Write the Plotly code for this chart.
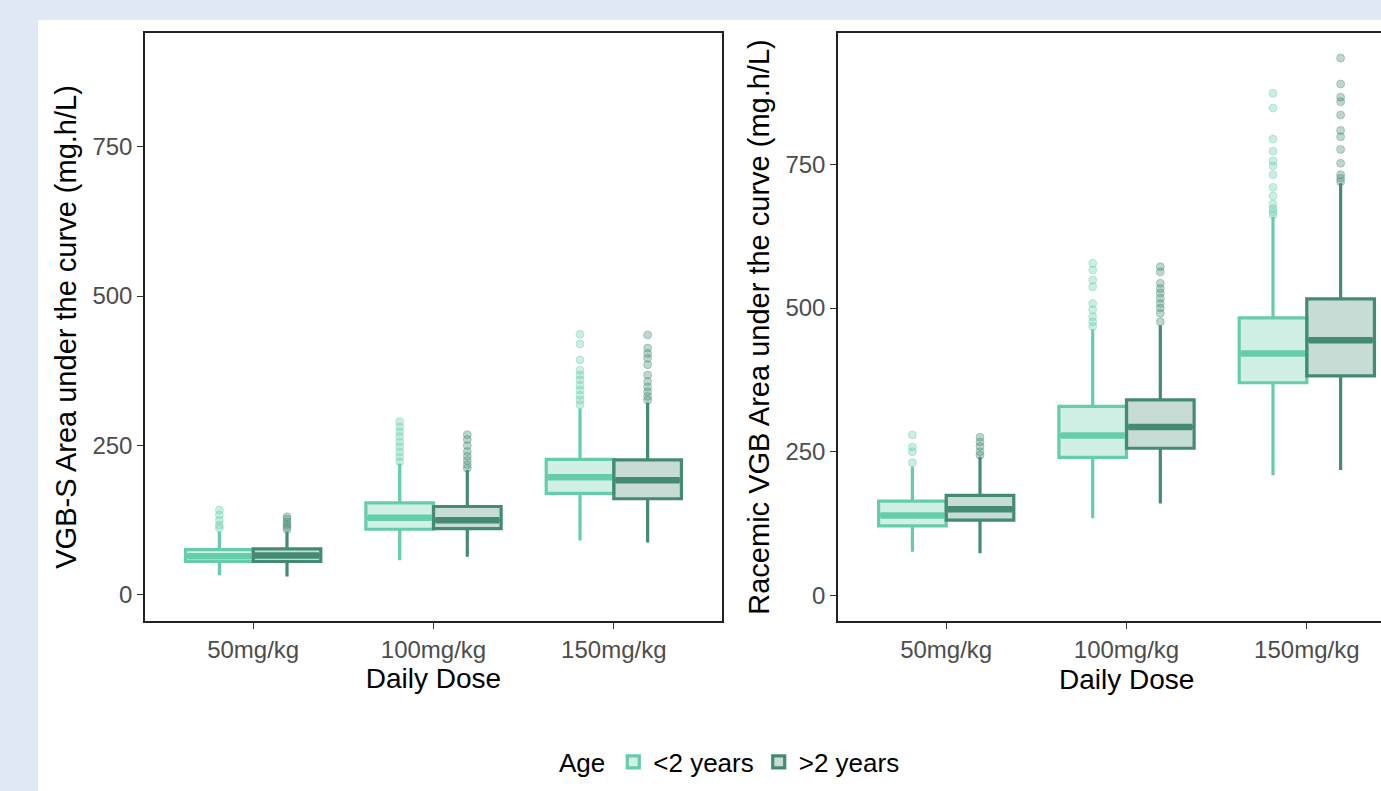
import plotly.graph_objects as go

# ---------------- data ----------------
doses = ["50mg/kg", "100mg/kg", "150mg/kg"]
dose_pos = [1, 2, 3]
age_groups = ["<2 years", ">2 years"]

# VGB-S AUC (left panel)
vgbs_lt2_lower = [33, 58, 91]
vgbs_lt2_q1 = [56, 110, 170]
vgbs_lt2_median = [65, 129, 197]
vgbs_lt2_q3 = [76, 154, 227]
vgbs_lt2_upper = [106, 220, 312]
vgbs_lt2_outliers = [
    [142, 134, 125, 117, 112],
    [290, 281, 273, 265, 256, 248, 239, 231, 223],
    [436, 420, 393, 376, 368, 360, 351, 343, 334, 326, 318],
]

vgbs_gt2_lower = [31, 64, 88]
vgbs_gt2_q1 = [56, 111, 161]
vgbs_gt2_median = [66, 125, 192]
vgbs_gt2_q3 = [77, 148, 226]
vgbs_gt2_upper = [106, 209, 322]
vgbs_gt2_outliers = [
    [131, 127, 122, 118, 114, 110],
    [268, 260, 250, 240, 232, 225, 218, 212],
    [435, 413, 404, 396, 385, 368, 357, 348, 340, 332, 326],
]

# Racemic VGB AUC (right panel)
rac_lt2_lower = [76, 134, 209]
rac_lt2_q1 = [121, 240, 370]
rac_lt2_median = [139, 278, 421]
rac_lt2_q3 = [164, 329, 483]
rac_lt2_upper = [224, 463, 659]
rac_lt2_outliers = [
    [279, 258, 250, 231],
    [578, 566, 549, 537, 508, 497, 485, 476, 468],
    [874, 848, 794, 773, 756, 747, 732, 710, 695, 681, 673, 667, 662],
]

rac_gt2_lower = [73, 160, 218]
rac_gt2_q1 = [131, 256, 382]
rac_gt2_median = [150, 293, 444]
rac_gt2_q3 = [174, 340, 516]
rac_gt2_upper = [241, 470, 717]
rac_gt2_outliers = [
    [275, 267, 259, 250, 244],
    [572, 563, 543, 534, 526, 517, 508, 500, 491, 476],
    [935, 890, 867, 859, 836, 809, 798, 776, 752, 732, 726, 720],
]

y_ticks = [0, 250, 500, 750]

# ---------------- style ----------------
LIGHT = "#66CDAA"
DARK = "#458B74"
LIGHT_FILL = "rgba(102,205,170,0.3)"
DARK_FILL = "rgba(69,139,116,0.3)"
LIGHT_PT = "rgba(102,205,170,0.35)"
DARK_PT = "rgba(69,139,116,0.35)"
BOX_W = 0.375
FONT = "Liberation Sans, Arial, sans-serif"

fig = go.Figure()

panels = [
    ("x", "y", [
        (age_groups[0], -1, LIGHT, LIGHT_FILL, LIGHT_PT, vgbs_lt2_lower, vgbs_lt2_q1, vgbs_lt2_median, vgbs_lt2_q3, vgbs_lt2_upper, vgbs_lt2_outliers),
        (age_groups[1], 1, DARK, DARK_FILL, DARK_PT, vgbs_gt2_lower, vgbs_gt2_q1, vgbs_gt2_median, vgbs_gt2_q3, vgbs_gt2_upper, vgbs_gt2_outliers),
    ], True),
    ("x2", "y2", [
        (age_groups[0], -1, LIGHT, LIGHT_FILL, LIGHT_PT, rac_lt2_lower, rac_lt2_q1, rac_lt2_median, rac_lt2_q3, rac_lt2_upper, rac_lt2_outliers),
        (age_groups[1], 1, DARK, DARK_FILL, DARK_PT, rac_gt2_lower, rac_gt2_q1, rac_gt2_median, rac_gt2_q3, rac_gt2_upper, rac_gt2_outliers),
    ], False),
]

for xa, ya, series, show in panels:
    for name, side, col, fill, ptc, lo, q1, med, q3, up, outs in series:
        xs = [p + side * BOX_W / 2 for p in dose_pos]
        # outliers
        ox, oy = [], []
        for x, vals in zip(xs, outs):
            ox += [x] * len(vals)
            oy += vals
        fig.add_trace(go.Scatter(
            x=ox, y=oy, mode="markers", xaxis=xa, yaxis=ya,
            marker=dict(size=8, color=ptc, line=dict(width=1, color=ptc)),
            showlegend=False, hoverinfo="skip"))
        fig.add_trace(go.Box(
            x=xs, q1=q1, median=med, q3=q3, lowerfence=lo, upperfence=up,
            width=BOX_W, name=name, legendgroup=name, showlegend=show,
            xaxis=xa, yaxis=ya, whiskerwidth=0,
            line=dict(color=col, width=3.2), fillcolor=fill,
            boxpoints=False))
        # thicker median bars (ggplot style)
        for x, m in zip(xs, med):
            fig.add_trace(go.Scatter(
                x=[x - BOX_W / 2 + 0.01, x + BOX_W / 2 - 0.01], y=[m, m],
                mode="lines", xaxis=xa, yaxis=ya,
                line=dict(color=col, width=6.5), showlegend=False, hoverinfo="skip"))

# ---------------- layout ----------------
W, H = 1381, 791
ML, MR, MT, MB = 145, 0, 33, 170
pw = W - ML - MR
ph = H - MT - MB

left_dom = [0, 577 / pw]
right_dom = [(838 - ML) / pw, 1.0]
right_span = (W - 838) / (577 / 3.2)

axis_common = dict(
    showgrid=False, zeroline=False, showline=True, linecolor="#222222", linewidth=1.5,
    ticks="outside", ticklen=6, tickwidth=1.3, tickcolor="#333333",
    tickfont=dict(size=24, color="#4D4D4D", family=FONT),
)

XT = dict(size=28, color="black", family=FONT)
YT = dict(size=29, color="black")

fig.update_layout(
    width=W, height=H,
    margin=dict(l=ML, r=MR, t=MT, b=MB),
    paper_bgcolor="white", plot_bgcolor="white",
    font=dict(family=FONT, color="black"),
    boxmode="overlay",
    xaxis=dict(domain=left_dom, range=[0.4, 3.6], tickvals=dose_pos, ticktext=doses,
               mirror=True, anchor="y",
               title=dict(text="Daily Dose", font=XT, standoff=6),
               **axis_common),
    yaxis=dict(domain=[0, 1], range=[-43.5, 940], tickvals=y_ticks, mirror=True, anchor="x",
               title=dict(text="VGB-S Area under the curve (mg.h/L)", font=YT, standoff=7),
               **axis_common),
    xaxis2=dict(domain=right_dom, range=[0.4, 0.4 + right_span], tickvals=dose_pos, ticktext=doses,
                mirror=True, anchor="y2",
                **axis_common),
    yaxis2=dict(domain=[0, 1], range=[-44.7, 978.7], tickvals=y_ticks, mirror=False, anchor="x2",
                title=dict(text="Racemic VGB Area under the curve (mg.h/L)", font=YT, standoff=7),
                **axis_common),
    legend=dict(orientation="h", x=(731 - ML) / pw, xanchor="center",
                y=(H - MB - 762) / ph, yanchor="middle",
                title=dict(text="Age", font=dict(size=26, color="black")),
                font=dict(size=26, color="black"), itemwidth=30, bgcolor="rgba(0,0,0,0)"),
    showlegend=True,
)

# right panel x title centred on the full (partly cut off) panel, as in the original
fig.add_annotation(text="Daily Dose", xref="paper", yref="paper",
                   x=(1126 - ML) / pw, y=(H - MB - 679) / ph, xanchor="center", yanchor="middle",
                   showarrow=False, font=XT)

BLUE = "#DEE9F5"
fig.add_shape(type="rect", xref="paper", yref="paper",
              x0=-ML / pw - 0.02, x1=(38 - ML) / pw, y0=-MB / ph - 0.05, y1=(H - MB) / ph + 0.05,
              fillcolor=BLUE, line=dict(width=0), layer="below")
fig.add_shape(type="rect", xref="paper", yref="paper",
              x0=-ML / pw - 0.02, x1=1.02, y0=(H - MB - 20) / ph, y1=(H - MB) / ph + 0.05,
              fillcolor=BLUE, line=dict(width=0), layer="below")

fig.write_html("out.html", config={"displayModeBar": False},
               post_script="document.body.style.margin='0';document.body.style.overflow='hidden';")
